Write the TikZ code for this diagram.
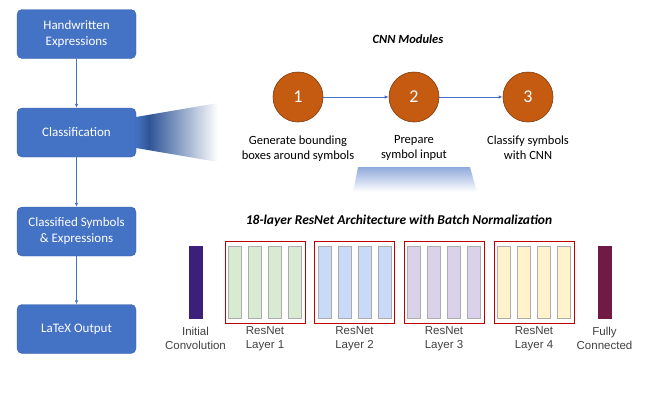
\documentclass[tikz,border=0pt]{standalone}
\usepackage{fontspec}
\setmainfont{Carlito}
\newfontfamily\arialfont{Liberation Sans}
\usetikzlibrary{arrows.meta,positioning}

\definecolor{boxblue}{HTML}{4472C4}
\definecolor{darkblue}{HTML}{2F5597}
\definecolor{modorange}{HTML}{C55A11}
\definecolor{trapblue}{HTML}{8FAADC}
\definecolor{convpurple}{HTML}{3B1F78}
\definecolor{fcred}{HTML}{701A45}
\definecolor{resgreen}{HTML}{D9EAD3}
\definecolor{resblue}{HTML}{C9DAF8}
\definecolor{respurple}{HTML}{D9D2E9}
\definecolor{resyellow}{HTML}{FFF2CC}

\pgfdeclarehorizontalshading{wedgefade}{100bp}{color(0bp)=(boxblue); color(25bp)=(boxblue);
  color(33bp)=(darkblue); color(75bp)=(white); color(100bp)=(white)}

\tikzset{
  stage/.style={rectangle, rounded corners=5pt, fill=boxblue, draw=boxblue!85!black,
    text=white, minimum width=119pt, minimum height=49pt, align=center,
    font=\fontsize{13}{16}\selectfont},
  module/.style={circle, fill=modorange, draw=modorange!65!black, line width=0.6pt,
    minimum size=50pt, text=white, font=\fontsize{18}{18}\selectfont},
  caption/.style={align=center, font=\fontsize{12.5}{15}\selectfont},
  heading/.style={font=\bfseries\itshape\fontsize{13.5}{15}\selectfont},
  flow/.style={-{Latex[length=4pt,width=3.5pt]}, boxblue, line width=0.8pt},
  block/.style={draw=red!75!black, line width=0.6pt, minimum width=80pt, minimum height=82pt},
  unit/.style={draw=gray!65, line width=0.8pt, minimum width=13pt, minimum height=72pt, inner sep=0pt},
  layerlabel/.style={align=center, text=black!75, font=\arialfont\fontsize{11.5}{14}\selectfont}
}

\begin{document}
\begin{tikzpicture}[x=1pt,y=-1pt]
  \useasboundingbox (0,0) rectangle (664,402);

  % Wedge and trapezoid
  \shade[shading=wedgefade] (136,117) -- (218,103) -- (218,162) -- (136,148) -- cycle;
  \shade[top color=trapblue, bottom color=white] (358,167) -- (470,167) -- (477,192) -- (353,192) -- cycle;

  % Pipeline
  \node[stage] (hw)  at (76.5,34)    {Handwritten\\Expressions};
  \node[stage] (cls) at (76.5,132.5) {Classification};
  \node[stage] (sym) at (76.5,231.5) {Classified Symbols\\\& Expressions};
  \node[stage] (out) at (76.5,329)   {LaTeX Output};
  \draw[flow] (hw) -- (cls);
  \draw[flow] (cls) -- (sym);
  \draw[flow] (sym) -- (out);

  % CNN modules
  \node[heading, font=\bfseries\itshape\fontsize{12.5}{15}\selectfont] (cnn) at (408,39) {CNN Modules};
  \node[module] (m1) at (298,97) {1};
  \node[module] (m2) at (414,97) {2};
  \node[module] (m3) at (528,97) {3};
  \draw[flow] (m1) -- (m2);
  \draw[flow] (m2) -- (m3);
  \node[caption, below=10pt of m1] (c1) {Generate bounding\\boxes around symbols};
  \node[caption, below=10pt of m2] (c2) {Prepare\\symbol input};
  \node[caption, below=10pt of m3] (c3) {Classify symbols\\with CNN};

  % ResNet
  \node[heading] (res) at (399,221) {18-layer ResNet Architecture with Batch Normalization};
  \node[unit, fill=convpurple, draw=convpurple] (conv) at (195.5,282) {};
  \node[layerlabel, below=5pt of conv] (convl) {Initial\\Convolution};
  \foreach \i/\x/\c in {1/265/resgreen, 2/354.5/resblue, 3/444/respurple, 4/534/resyellow} {
    \node[block] (L\i) at (\x,282) {};
    \foreach \j/\d in {1/-30,2/-10,3/10,4/30}
      \node[unit, fill=\c] (L\i-\j) at (\x+\d,282) {};
    \node[layerlabel, below=0pt of L\i] (L\i l) {ResNet\\Layer \i};
  }
  \node[unit, fill=fcred, draw=fcred] (fc) at (604.5,282) {};
  \node[layerlabel, below=5pt of fc] (fcl) {Fully\\Connected};
\end{tikzpicture}
\end{document}
